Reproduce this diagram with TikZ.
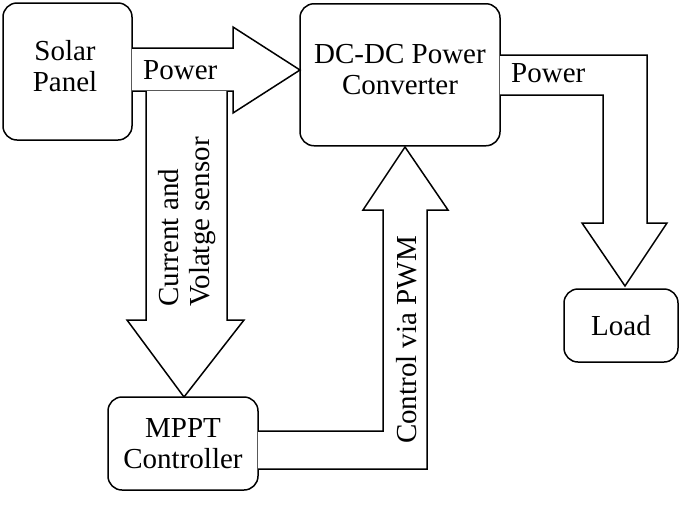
\documentclass[tikz,border=0pt]{standalone}
\usepackage{fontspec}
\setmainfont{Liberation Serif}
\newcommand{\bigtxt}{\fontsize{29}{31}\selectfont}
\begin{document}
\begin{tikzpicture}[x=1pt,y=-1pt,
  box/.style={draw,line width=1.5pt,rounded corners=14pt,align=center,inner sep=0pt},
  blk/.style={draw,line width=1.5pt,fill=white,line join=miter},
  txt/.style={font={\bigtxt},align=center},
  lbl/.style={font={\bigtxt},inner sep=0pt}]
\useasboundingbox (0,0) rectangle (685,504);
\node[box,minimum width=129pt,minimum height=137pt,txt] (solar) at (67.5,71.5) {};
\node[txt] at (65,66) {Solar\\Panel};
\node[box,minimum width=200pt,minimum height=142pt,txt,anchor=north] (dc) at (400,3) {};
\node[txt] at (400,70) {DC-DC Power\\Converter};
\node[box,minimum width=114pt,minimum height=73pt,txt] (load) at (621,325.5) {Load};
\node[box,minimum width=150pt,minimum height=93pt,txt] (mppt) at (183,443.5) {MPPT\\Controller};
% Power arrow solar -> dc
\draw[blk] (132,48) -- (233,48) -- (233,27) -- (300,70) -- (233,113) -- (233,91) -- (132,91);
% sensor arrow
\draw[blk] (146,91) -- (146,320) -- (127,320) -- (184,397) -- (244,320) -- (227,320) -- (227,91);
\node[lbl,rotate=90,align=left] at (187,222) {Current and\\Volatge sensor};
\node[lbl,anchor=west] at (143,70) {Power};
% PWM arrow
\draw[blk] (258,431) -- (383,431) -- (383,210) -- (363,210) -- (405,147) -- (448,210) -- (427,210) -- (427,469) -- (258,469);
\node[lbl,rotate=90] at (407,340) {Control via PWM};
% power to load
\draw[blk] (500,55) -- (647,55) -- (647,223) -- (667,223) -- (625,286) -- (582,223) -- (603,223) -- (603,95) -- (500,95);
\node[lbl,anchor=west] at (511,73) {Power};
\end{tikzpicture}
\end{document}
